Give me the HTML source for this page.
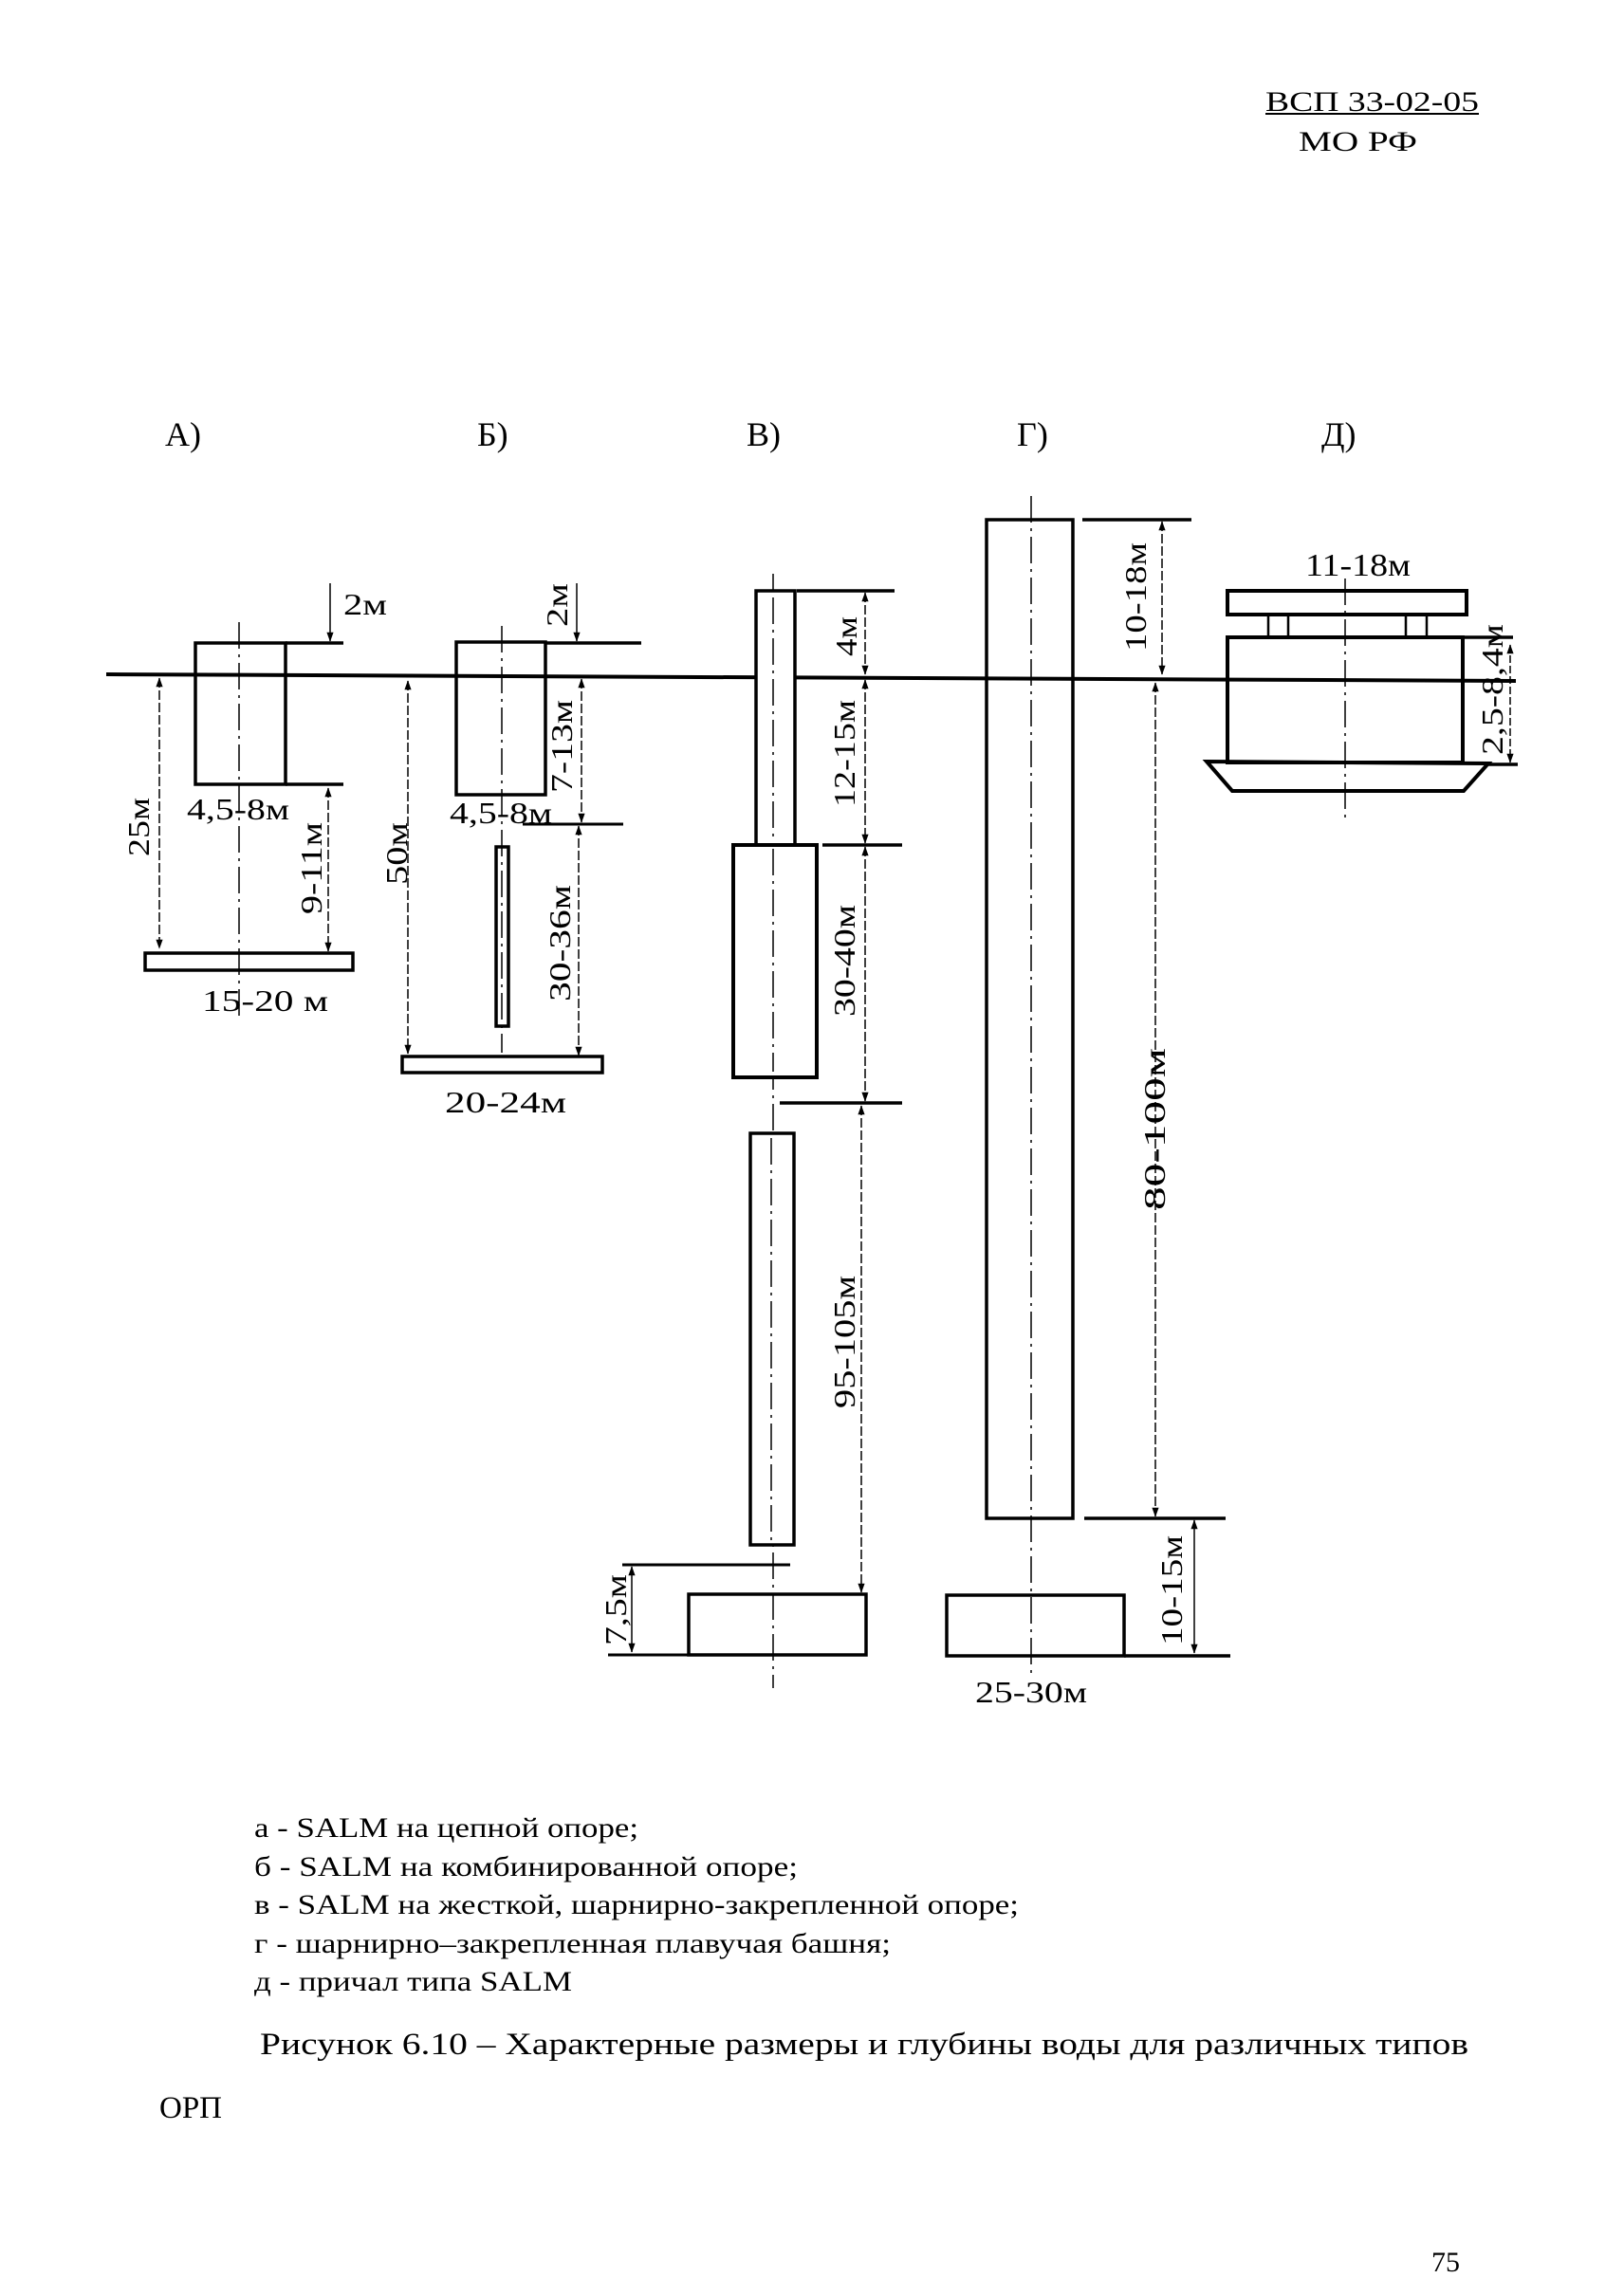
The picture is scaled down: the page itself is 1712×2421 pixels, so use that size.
<!DOCTYPE html>
<html><head><meta charset="utf-8"><style>
html,body{margin:0;padding:0;background:#fff;}
svg{display:block;}
text{font-family:"Liberation Serif",serif;fill:#000;}
</style></head><body>
<svg width="1712" height="2421" viewBox="0 0 1712 2421" xmlns="http://www.w3.org/2000/svg">
<defs>
<marker id="a" markerWidth="10" markerHeight="14" refX="13" refY="5" orient="auto-start-reverse" markerUnits="userSpaceOnUse" viewBox="0 0 14 10"><path d="M0,0 L14,5 L0,10 Z" fill="#000"/></marker>
</defs>
<g stroke="#000" fill="none">
<line x1="1334" y1="120" x2="1559" y2="120" stroke-width="2"/>
<line x1="112" y1="711" x2="1598" y2="718" stroke-width="4"/>

<!-- A -->
<rect x="206" y="678" width="95" height="149" stroke-width="3.5"/>
<line x1="301" y1="678" x2="362" y2="678" stroke-width="3.5"/>
<line x1="301" y1="827" x2="362" y2="827" stroke-width="3.5"/>
<line x1="252" y1="656" x2="252" y2="1072" stroke-width="1.5" stroke-dasharray="28 6 3 6"/>
<line x1="348" y1="615" x2="348" y2="676" stroke-width="1.5" marker-end="url(#a)"/>
<line x1="168" y1="715" x2="168" y2="1000" stroke-width="1.5" stroke-dasharray="10 3" marker-start="url(#a)" marker-end="url(#a)"/>
<line x1="346" y1="831" x2="346" y2="1003" stroke-width="1.5" stroke-dasharray="10 3" marker-start="url(#a)" marker-end="url(#a)"/>
<rect x="153" y="1005" width="219" height="18" stroke-width="3.5"/>

<!-- B -->
<rect x="481" y="677" width="94" height="161" stroke-width="3.5"/>
<line x1="529" y1="660" x2="529" y2="1110" stroke-width="1.5" stroke-dasharray="28 6 3 6"/>
<line x1="575" y1="678" x2="676" y2="678" stroke-width="3.5"/>
<line x1="608" y1="615" x2="608" y2="676" stroke-width="1.5" marker-end="url(#a)"/>
<line x1="613" y1="716" x2="613" y2="867" stroke-width="1.5" stroke-dasharray="10 3" marker-start="url(#a)" marker-end="url(#a)"/>
<line x1="551" y1="869" x2="657" y2="869" stroke-width="3"/>
<rect x="523" y="893" width="13" height="189" stroke-width="3.5"/>
<line x1="610" y1="871" x2="610" y2="1113" stroke-width="1.5" stroke-dasharray="10 3" marker-start="url(#a)" marker-end="url(#a)"/>
<line x1="430" y1="718" x2="430" y2="1111" stroke-width="1.5" stroke-dasharray="10 3" marker-start="url(#a)" marker-end="url(#a)"/>
<rect x="424" y="1114" width="211" height="17" stroke-width="3.5"/>

<!-- V -->
<line x1="815" y1="605" x2="815" y2="1780" stroke-width="1.5" stroke-dasharray="28 6 3 6"/>
<rect x="797" y="623" width="41" height="268" stroke-width="3.5" fill="#fff"/>
<line x1="815" y1="630" x2="815" y2="885" stroke-width="1.5" stroke-dasharray="28 6 3 6"/>
<line x1="840" y1="623" x2="943" y2="623" stroke-width="3.5"/>
<line x1="912" y1="625" x2="912" y2="711" stroke-width="1.5" stroke-dasharray="10 3" marker-start="url(#a)" marker-end="url(#a)"/>
<line x1="912" y1="717" x2="912" y2="889" stroke-width="1.5" stroke-dasharray="10 3" marker-start="url(#a)" marker-end="url(#a)"/>
<rect x="773" y="891" width="88" height="245" stroke-width="4" fill="#fff"/>
<line x1="815" y1="895" x2="815" y2="1130" stroke-width="1.5" stroke-dasharray="28 6 3 6"/>
<line x1="867" y1="891" x2="951" y2="891" stroke-width="3.5"/>
<line x1="912" y1="893" x2="912" y2="1161" stroke-width="1.5" stroke-dasharray="10 3" marker-start="url(#a)" marker-end="url(#a)"/>
<line x1="822" y1="1163" x2="951" y2="1163" stroke-width="3.5"/>
<line x1="908" y1="1166" x2="908" y2="1679" stroke-width="1.5" stroke-dasharray="10 3" marker-start="url(#a)" marker-end="url(#a)"/>
<rect x="791" y="1195" width="46" height="434" stroke-width="3.5" fill="#fff"/>
<line x1="813" y1="1200" x2="813" y2="1625" stroke-width="1.5" stroke-dasharray="28 6 3 6"/>
<line x1="656" y1="1650" x2="833" y2="1650" stroke-width="3"/>
<line x1="666" y1="1652" x2="666" y2="1742" stroke-width="1.5" marker-start="url(#a)" marker-end="url(#a)"/>
<line x1="641" y1="1745" x2="726" y2="1745" stroke-width="3"/>
<rect x="726" y="1681" width="187" height="64" stroke-width="3.5"/>

<!-- G -->
<rect x="1040" y="548" width="91" height="1053" stroke-width="3.5"/>
<line x1="1087" y1="523" x2="1087" y2="1765" stroke-width="1.5" stroke-dasharray="28 6 3 6"/>
<line x1="1141" y1="548" x2="1256" y2="548" stroke-width="3.5"/>
<line x1="1225" y1="550" x2="1225" y2="711" stroke-width="1.5" stroke-dasharray="10 3" marker-start="url(#a)" marker-end="url(#a)"/>
<line x1="1218" y1="720" x2="1218" y2="1599" stroke-width="1.5" stroke-dasharray="10 3" marker-start="url(#a)" marker-end="url(#a)"/>
<line x1="1143" y1="1601" x2="1292" y2="1601" stroke-width="3.5"/>
<line x1="1259" y1="1603" x2="1259" y2="1743" stroke-width="1.5" marker-start="url(#a)" marker-end="url(#a)"/>
<rect x="998" y="1682" width="187" height="64" stroke-width="3.5"/>
<line x1="1185" y1="1746" x2="1297" y2="1746" stroke-width="3.5"/>

<!-- D -->
<rect x="1294" y="623" width="252" height="25" stroke-width="4"/>
<rect x="1337" y="648" width="21" height="24" stroke-width="2.5"/>
<rect x="1482" y="648" width="22" height="24" stroke-width="2.5"/>
<rect x="1294" y="672" width="248" height="132" stroke-width="4"/>
<line x1="1542" y1="672" x2="1595" y2="672" stroke-width="3.5"/>
<line x1="1569" y1="806" x2="1600" y2="806" stroke-width="3.5"/>
<path d="M1272,803 L1569,805 L1543,834 L1299,834 Z" stroke-width="4"/>
<line x1="1418" y1="610" x2="1418" y2="862" stroke-width="1.5" stroke-dasharray="28 6 3 6"/>
<line x1="1592" y1="680" x2="1592" y2="804" stroke-width="1.5" stroke-dasharray="8 3" marker-start="url(#a)" marker-end="url(#a)"/>
</g>

<text x="1334" y="117" font-size="30" textLength="225" lengthAdjust="spacingAndGlyphs">ВСП 33-02-05</text>
<text x="1369" y="159" font-size="30" textLength="125" lengthAdjust="spacingAndGlyphs">МО РФ</text>

<text x="174" y="470" font-size="36">А)</text>
<text x="503" y="470" font-size="36">Б)</text>
<text x="787" y="470" font-size="36">В)</text>
<text x="1072" y="470" font-size="36">Г)</text>
<text x="1393" y="470" font-size="36">Д)</text>

<text x="362" y="648" font-size="32" textLength="46" lengthAdjust="spacingAndGlyphs">2м</text>
<text x="197" y="864" font-size="32" textLength="108" lengthAdjust="spacingAndGlyphs">4,5-8м</text>
<text x="213" y="1066" font-size="32" textLength="133" lengthAdjust="spacingAndGlyphs">15-20 м</text>
<text x="474" y="868" font-size="32" textLength="108" lengthAdjust="spacingAndGlyphs">4,5-8м</text>
<text x="469" y="1173" font-size="32" textLength="128" lengthAdjust="spacingAndGlyphs">20-24м</text>
<text x="1028" y="1795" font-size="32" textLength="118" lengthAdjust="spacingAndGlyphs">25-30м</text>
<text x="1376" y="607" font-size="34" textLength="111" lengthAdjust="spacingAndGlyphs">11-18м</text>

<g font-size="32">
<text transform="translate(157,903) rotate(-90)" textLength="62" lengthAdjust="spacingAndGlyphs">25м</text>
<text transform="translate(339,964) rotate(-90)" textLength="97" lengthAdjust="spacingAndGlyphs">9-11м</text>
<text transform="translate(598,661) rotate(-90)" textLength="46" lengthAdjust="spacingAndGlyphs">2м</text>
<text transform="translate(603,836) rotate(-90)" textLength="98" lengthAdjust="spacingAndGlyphs">7-13м</text>
<text transform="translate(601,1056) rotate(-90)" textLength="123" lengthAdjust="spacingAndGlyphs">30-36м</text>
<text transform="translate(429,933) rotate(-90)" textLength="66" lengthAdjust="spacingAndGlyphs">50м</text>
<text transform="translate(903,692) rotate(-90)" textLength="42" lengthAdjust="spacingAndGlyphs">4м</text>
<text transform="translate(901,851) rotate(-90)" textLength="113" lengthAdjust="spacingAndGlyphs">12-15м</text>
<text transform="translate(901,1072) rotate(-90)" textLength="118" lengthAdjust="spacingAndGlyphs">30-40м</text>
<text transform="translate(901,1485) rotate(-90)" textLength="140" lengthAdjust="spacingAndGlyphs">95-105м</text>
<text transform="translate(660,1735) rotate(-90)" textLength="75" lengthAdjust="spacingAndGlyphs">7,5м</text>
<text transform="translate(1208,687) rotate(-90)" textLength="115" lengthAdjust="spacingAndGlyphs">10-18м</text>
<text transform="translate(1228,1276) rotate(-90)" textLength="171" lengthAdjust="spacingAndGlyphs">80-100м</text>
<text transform="translate(1246,1735) rotate(-90)" textLength="116" lengthAdjust="spacingAndGlyphs">10-15м</text>
<text transform="translate(1584,796) rotate(-90)" textLength="138" lengthAdjust="spacingAndGlyphs">2,5-8,4м</text>
</g>

<g font-size="30">
<text x="268" y="1937" textLength="405" lengthAdjust="spacingAndGlyphs">а - SALM на цепной опоре;</text>
<text x="268" y="1978" textLength="573" lengthAdjust="spacingAndGlyphs">б - SALM на комбинированной опоре;</text>
<text x="268" y="2018" textLength="806" lengthAdjust="spacingAndGlyphs">в - SALM на жесткой, шарнирно-закрепленной опоре;</text>
<text x="268" y="2059" textLength="671" lengthAdjust="spacingAndGlyphs">г - шарнирно–закрепленная плавучая башня;</text>
<text x="268" y="2099" textLength="335" lengthAdjust="spacingAndGlyphs">д - причал типа SALM</text>
</g>
<text x="274" y="2166" font-size="33" textLength="1274" lengthAdjust="spacingAndGlyphs">Рисунок 6.10 – Характерные размеры и глубины воды для различных типов</text>
<text x="168" y="2233" font-size="33">ОРП</text>
<text x="1509" y="2395" font-size="30">75</text>
</svg>
</body></html>
